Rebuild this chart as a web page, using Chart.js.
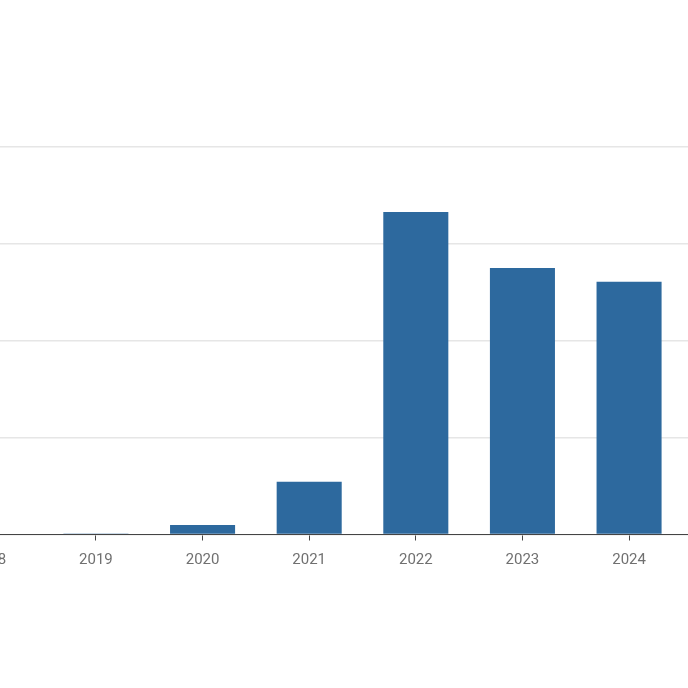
<!DOCTYPE html>
<html>
<head>
<meta charset="utf-8">
<script src="https://cdn.jsdelivr.net/npm/chart.js@4"></script>
<style>
html,body{margin:0;padding:0;width:688px;height:688px;overflow:hidden;background:#fff;}
#wrap{position:absolute;left:-64px;top:0;width:853px;height:688px;}
</style>
</head>
<body>
<div id="wrap"><canvas id="c" width="853" height="688"></canvas></div>
<script>
const years = ["2018","2019","2020","2021","2022","2023","2024","2025"];
const values = [0, 0.01, 0.098, 0.545, 3.33, 2.75, 2.61, null];
const yTicks = [0, 1, 2, 3, 4];

new Chart(document.getElementById('c'), {
  type: 'bar',
  data: {
    labels: years,
    datasets: [{
      data: values,
      backgroundColor: '#2d699e',
      borderWidth: 0,
      categoryPercentage: 1,
      barPercentage: 0.61
    }]
  },
  options: {
    responsive: false,
    animation: false,
    layout: { padding: { top: 147, left: 0, right: 0, bottom: 0 } },
    plugins: { legend: { display: false }, tooltip: { enabled: false } },
    scales: {
      x: {
        grid: { display: true, offset: false, drawOnChartArea: false, tickLength: 6, color: '#444', lineWidth: 1 },
        border: { display: true, color: '#444', width: 1 },
        ticks: { color: '#707070', font: { family: 'Roboto', size: 15 }, padding: 11, maxRotation: 0, autoSkip: false },
        afterFit: s => { s.height = 153.5; }
      },
      y: {
        min: yTicks[0],
        max: yTicks[yTicks.length - 1],
        afterBuildTicks: s => { s.ticks = yTicks.map(v => ({ value: v })); },
        grid: { color: '#e6e6e6', lineWidth: 1.5, drawTicks: false },
        border: { display: false },
        ticks: { display: false },
        afterFit: s => { s.width = 0; }
      }
    }
  }
});
</script>
</body>
</html>
